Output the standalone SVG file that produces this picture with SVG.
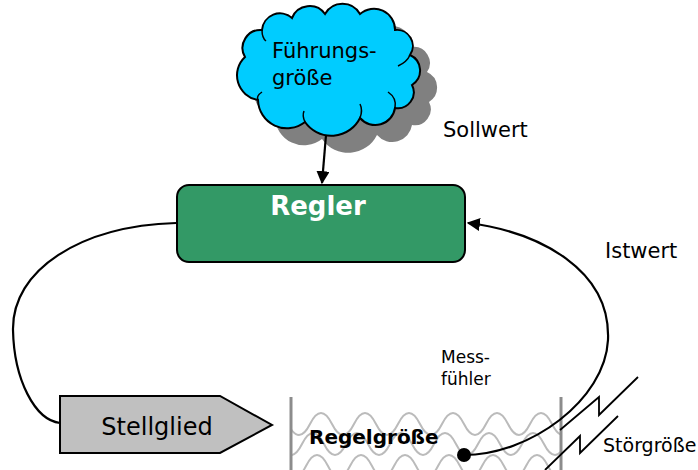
<svg xmlns="http://www.w3.org/2000/svg" width="698" height="470" viewBox="0 0 698 470">
<style>
text{font-family:"DejaVu Sans","Liberation Sans",sans-serif;fill:#000}
.conn{fill:none;stroke:#000;stroke-width:2.2}
.wave{fill:none;stroke:#bbbbbb;stroke-width:2}
.bolt{fill:none;stroke:#000;stroke-width:1.8}
.wall{stroke:#8c8c8c;stroke-width:3}
</style>
<defs>
<marker id="ah" viewBox="0 0 10 10" refX="9" refY="5" markerWidth="6" markerHeight="6" orient="auto" markerUnits="strokeWidth">
<path d="M0,0 L10,5 L0,10 Z" fill="#000"/>
</marker>
<path id="cloudShape" d="M258,100 A25,25 0 0 1 245,57 A18,18 0 0 1 262,30 A18,18 0 0 1 292,18 A19,19 0 0 1 325,14 A20,20 0 0 1 360,14 A21,21 0 0 1 395,30 A16,16 0 0 1 410,55 A17,17 0 0 1 412,85 A16,16 0 0 1 395,108 A20,20 0 0 1 360,118 A32,32 0 0 1 305,122 A29,29 0 0 1 258,100 Z"/>
<clipPath id="tank"><rect x="292" y="395" width="268" height="80"/></clipPath>
</defs>

<g id="cloud">
<use href="#cloudShape" transform="translate(17,17)" fill="#808080"/>
<use href="#cloudShape" fill="#00ccff" stroke="#000" stroke-width="2"/>
<path d="M258,100 Q256,96 262,92 M305,122 Q302,116 304,111 M360,118 Q363,110 360,104 M395,108 Q397,98 388,92 M410,55 Q407,62 398,66 M262,30 Q262,38 266,41" fill="none" stroke="#000" stroke-width="1.5"/>
<text x="272" y="58" font-size="21">Führungs-</text>
<text x="272" y="85" font-size="21">größe</text>
</g>

<g id="regler">
<rect x="177" y="185" width="288" height="77" rx="12" fill="#339966" stroke="#000" stroke-width="2"/>
<text x="318" y="215" font-size="26" font-weight="bold" text-anchor="middle" style="fill:#fff">Regler</text>
</g>

<g id="stellglied">
<path d="M60,396 L220,396 L272,425 L220,453 L60,453 Z" fill="#c0c0c0" stroke="#000" stroke-width="2"/>
<text x="157" y="435" font-size="24" text-anchor="middle">Stellglied</text>
</g>

<g id="strecke">
<g clip-path="url(#tank)">
<path class="wave" d="M266,424 Q277,402 288,424 T310,424 T332,424 T354,424 T376,424 T398,424 T420,424 T442,424 T464,424 T486,424 T508,424 T530,424 T552,424 T574,424"/>
<path class="wave" d="M258,444 Q269,422 280,444 T302,444 T324,444 T346,444 T368,444 T390,444 T412,444 T434,444 T456,444 T478,444 T500,444 T522,444 T544,444 T566,444"/>
<path class="wave" d="M262,466 Q273,444 284,466 T306,466 T328,466 T350,466 T372,466 T394,466 T416,466 T438,466 T460,466 T482,466 T504,466 T526,466 T548,466 T570,466"/>
</g>
<line class="wall" x1="291" y1="397" x2="291" y2="470"/>
<line class="wall" x1="561" y1="397" x2="561" y2="470"/>
<text x="309" y="444" font-size="20" font-weight="bold">Regelgröße</text>
</g>

<g id="sensor">
<circle cx="464" cy="455" r="7" fill="#000"/>
</g>

<g id="connectors">
<path class="conn" d="M326,135 L322,183" marker-end="url(#ah)"/>
<path class="conn" d="M176,223 C80,226 12,270 13,330 C14,380 35,420 60,423"/>
<path class="conn" d="M464,455 C530,455 605,400 608,340 C611,270 540,232 468,223" marker-end="url(#ah)"/>
<path class="bolt" d="M560,430 L599,397 L599,415 L638,377"/>
<path class="bolt" d="M545,470 L580,436 L580,453 L618,416"/>
</g>

<g id="labels">
<text x="443" y="137" font-size="21">Sollwert</text>
<text x="605" y="258" font-size="21">Istwert</text>
<text x="441" y="363" font-size="17">Mess-</text>
<text x="441" y="385" font-size="17">fühler</text>
<text x="603" y="452" font-size="19">Störgröße</text>
</g>
</svg>
